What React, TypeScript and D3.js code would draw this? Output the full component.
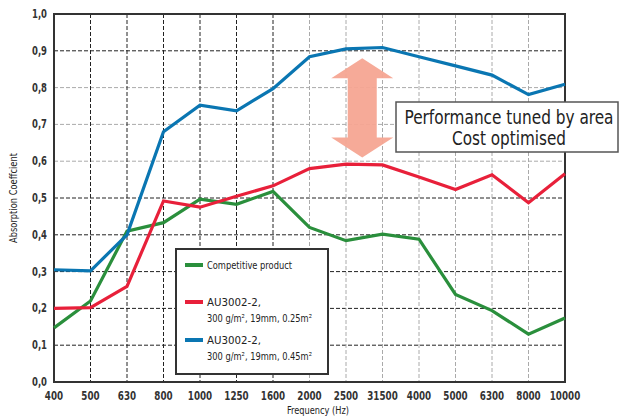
import React, { useEffect, useRef } from "react";
import * as d3 from "d3";

const frequencies = ["400", "500", "630", "800", "1000", "1250", "1600", "2000", "2500", "31500", "4000", "5000", "6300", "8000", "10000"];
const competitive = [0.147, 0.22, 0.41, 0.433, 0.497, 0.483, 0.518, 0.42, 0.384, 0.402, 0.388, 0.238, 0.194, 0.13, 0.174];
const au025 = [0.2, 0.202, 0.26, 0.492, 0.475, 0.505, 0.533, 0.58, 0.592, 0.59, 0.557, 0.523, 0.563, 0.487, 0.566];
const au045 = [0.305, 0.302, 0.4, 0.68, 0.752, 0.737, 0.797, 0.884, 0.905, 0.909, 0.884, 0.859, 0.834, 0.781, 0.809];
const yTicks = [0, 0.1, 0.2, 0.3, 0.4, 0.5, 0.6, 0.7, 0.8, 0.9, 1.0];
const darkY = [0.1, 0.2, 0.3, 0.4, 0.5, 0.9];
const darkX = ["500", "630", "800", "1000", "1250", "1600"];
const notes = ["Performance tuned by area", "Cost optimised"];

const series = [
  { name: "Competitive product", sub: "", values: competitive, color: "#2a8f3c" },
  { name: "AU3002-2,", sub: "300 g/m², 19mm, 0.25m²", values: au025, color: "#e8203a" },
  { name: "AU3002-2,", sub: "300 g/m², 19mm, 0.45m²", values: au045, color: "#0a76b2" },
];

const width = 621;
const height = 418;
const margin = { top: 14, right: 56, bottom: 36, left: 54 };
const font = "'DejaVu Sans Condensed', 'DejaVu Sans', sans-serif";

// rough width of condensed text, used for textLength
const fit = (s: string, per: number) => s.length * per;

export default function App() {
  const ref = useRef<SVGSVGElement>(null);

  useEffect(() => {
    const svg = d3.select(ref.current);
    svg.selectAll("*").remove();

    const x = d3
      .scalePoint()
      .domain(frequencies)
      .range([margin.left, width - margin.right]);
    const y = d3
      .scaleLinear()
      .domain([0, 1])
      .range([height - margin.bottom, margin.top]);

    // grid
    const grid = svg.append("g");
    grid
      .selectAll(".hy")
      .data(yTicks.slice(1, -1))
      .enter()
      .append("line")
      .attr("x1", margin.left)
      .attr("x2", width - margin.right)
      .attr("y1", (d) => y(d))
      .attr("y2", (d) => y(d))
      .attr("stroke", (d) => (darkY.some((v) => Math.abs(v - d) < 1e-6) ? "#222" : "#aaa"))
      .attr("stroke-width", 1)
      .attr("stroke-dasharray", "4,2");
    grid
      .selectAll(".vx")
      .data(frequencies.slice(1, -1))
      .enter()
      .append("line")
      .attr("x1", (d) => x(d)!)
      .attr("x2", (d) => x(d)!)
      .attr("y1", margin.top)
      .attr("y2", height - margin.bottom)
      .attr("stroke", (d) => (darkX.includes(d) ? "#222" : "#aaa"))
      .attr("stroke-width", 1)
      .attr("stroke-dasharray", "4,2");

    // frame
    svg
      .append("rect")
      .attr("x", margin.left)
      .attr("y", margin.top)
      .attr("width", width - margin.left - margin.right)
      .attr("height", height - margin.top - margin.bottom)
      .attr("fill", "none")
      .attr("stroke", "#333")
      .attr("stroke-width", 2);

    // y tick labels
    svg
      .append("g")
      .selectAll("text")
      .data(yTicks)
      .enter()
      .append("text")
      .attr("x", margin.left - 7)
      .attr("y", (d) => y(d) + 4)
      .attr("text-anchor", "end")
      .attr("font-family", font)
      .attr("font-size", 12)
      .attr("font-weight", "bold")
      .attr("fill", "#333")
      .attr("textLength", 15)
      .attr("lengthAdjust", "spacingAndGlyphs")
      .text((d) => d3.format(".1f")(d).replace(".", ","));

    // x tick labels
    svg
      .append("g")
      .selectAll("text")
      .data(frequencies)
      .enter()
      .append("text")
      .attr("x", (d) => x(d)! - fit(d, 6.1) / 2)
      .attr("y", height - margin.bottom + 18)
      .attr("font-family", font)
      .attr("font-size", 12.5)
      .attr("font-weight", "bold")
      .attr("fill", "#333")
      .attr("textLength", (d) => fit(d, 6.1))
      .attr("lengthAdjust", "spacingAndGlyphs")
      .text((d) => d);

    svg
      .append("text")
      .attr("x", 287)
      .attr("y", height - 4)
      .attr("font-family", font)
      .attr("font-size", 10)
      .attr("fill", "#222")
      .attr("textLength", 62)
      .attr("lengthAdjust", "spacingAndGlyphs")
      .text("Frequency (Hz)");

    svg
      .append("text")
      .attr("transform", `translate(17,243)rotate(-90)`)
      .attr("font-family", font)
      .attr("font-size", 10)
      .attr("fill", "#222")
      .attr("textLength", 90)
      .attr("lengthAdjust", "spacingAndGlyphs")
      .text("Absorption Coeffcient");

    // lines
    const line = d3
      .line<number>()
      .x((_, i) => x(frequencies[i])!)
      .y((d) => y(d));
    series.forEach((s) => {
      svg
        .append("path")
        .attr("d", line(s.values))
        .attr("fill", "none")
        .attr("stroke", s.color)
        .attr("stroke-width", 3.2)
        .attr("stroke-linejoin", "miter");
    });

    // double arrow
    const ax = (x("2500")! + x("31500")!) / 2 - 2;
    const top = y(0.88);
    const bot = y(0.61);
    const hw = 31;
    const sw = 14.5;
    const hh = 20;
    svg
      .append("path")
      .attr(
        "d",
        `M${ax},${top} L${ax + hw},${top + hh} L${ax + sw},${top + hh} L${ax + sw},${bot - hh} L${ax + hw},${bot - hh} L${ax},${bot} L${ax - hw},${bot - hh} L${ax - sw},${bot - hh} L${ax - sw},${top + hh} L${ax - hw},${top + hh} Z`
      )
      .attr("fill", "#f5a592")
      .attr("opacity", 0.95);

    // annotation box
    const ann = svg.append("g");
    ann
      .append("rect")
      .attr("x", 396)
      .attr("y", 102)
      .attr("width", 222)
      .attr("height", 50)
      .attr("fill", "#fff")
      .attr("stroke", "#555")
      .attr("stroke-width", 1.5);
    const noteW = [209, 114];
    notes.forEach((t, i) => {
      ann
        .append("text")
        .attr("x", 509 - noteW[i] / 2)
        .attr("y", 124 + i * 21)
        .attr("font-family", font)
        .attr("font-size", 20)
        .attr("fill", "#222")
        .attr("textLength", noteW[i])
        .attr("lengthAdjust", "spacingAndGlyphs")
        .text(t);
    });

    // legend
    const lg = svg.append("g");
    lg.append("rect")
      .attr("x", 176)
      .attr("y", 249)
      .attr("width", 152)
      .attr("height", 125)
      .attr("fill", "#fff")
      .attr("stroke", "#333")
      .attr("stroke-width", 2);
    const rowY = [265, 302, 340];
    const nameW = [85, 54, 54];
    series.forEach((s, i) => {
      lg.append("line")
        .attr("x1", 185)
        .attr("x2", 203)
        .attr("y1", rowY[i])
        .attr("y2", rowY[i])
        .attr("stroke", s.color)
        .attr("stroke-width", 4);
      lg.append("text")
        .attr("x", 207)
        .attr("y", rowY[i] + 4)
        .attr("font-family", font)
        .attr("font-size", 11)
        .attr("fill", "#222")
        .attr("textLength", nameW[i])
        .attr("lengthAdjust", "spacingAndGlyphs")
        .text(s.name);
      if (s.sub) {
        lg.append("text")
          .attr("x", 207)
          .attr("y", rowY[i] + 20)
          .attr("font-family", font)
          .attr("font-size", 11)
          .attr("fill", "#222")
          .attr("textLength", 105)
          .attr("lengthAdjust", "spacingAndGlyphs")
          .text(s.sub);
      }
    });
  }, []);

  return (
    <svg
      ref={ref}
      width={width}
      height={height}
      style={{ position: "absolute", left: 0, top: 0, background: "#fff" }}
    />
  );
}
